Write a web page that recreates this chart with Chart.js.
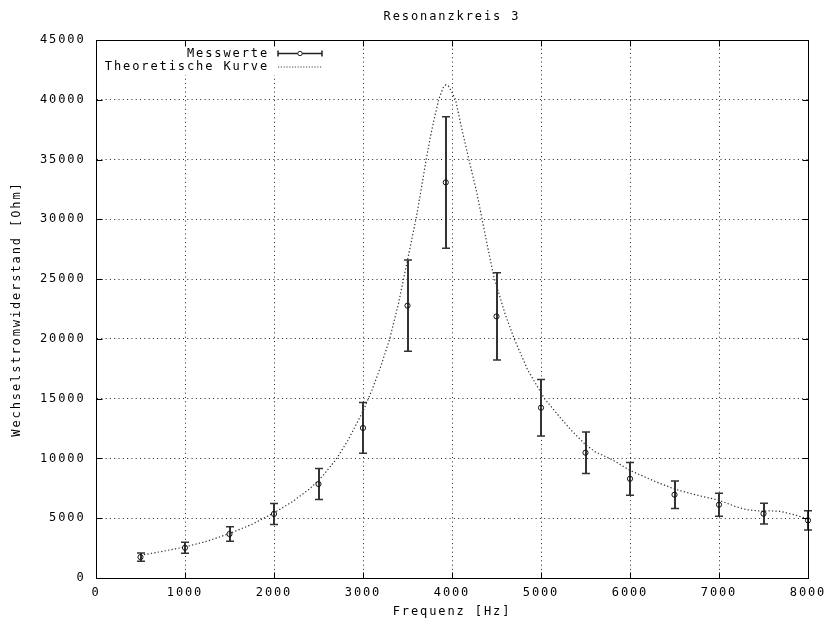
<!DOCTYPE html>
<html><head><meta charset="utf-8">
<script src="https://cdn.jsdelivr.net/npm/chart.js@4/dist/chart.umd.min.js"></script>
<style>html,body{margin:0;padding:0;background:#fff}#wrap{width:832px;height:621px}</style>
</head><body><div id="wrap"><canvas id="c" width="832" height="621"></canvas></div>
<script>
const chartTitle = 'Resonanzkreis 3';
const xTitle = 'Frequenz [Hz]';
const yTitle = 'Wechselstromwiderstand [Ohm]';
const seriesNames = ['Messwerte', 'Theoretische Kurve'];
const xTicks = [0, 1000, 2000, 3000, 4000, 5000, 6000, 7000, 8000];
const yTicks = [0, 5000, 10000, 15000, 20000, 25000, 30000, 35000, 40000, 45000];

const measFreq  = [500, 1000, 1500, 2000, 2500, 3000, 3500, 3930, 4500, 5000, 5500, 6000, 6500, 7000, 7500, 8000];
const measValue = [1750, 2530, 3680, 5360, 7860, 12550, 22780, 33090, 21880, 14240, 10480, 8300, 6970, 6130, 5380, 4820];
const measError = [350, 450, 600, 880, 1300, 2120, 3820, 5500, 3650, 2370, 1740, 1370, 1150, 960, 870, 800];

const curveFreq  = [500, 750, 1000, 1250, 1500, 1750, 2000, 2200, 2400, 2550, 2700, 2830, 3000, 3100, 3200, 3300, 3400, 3455, 3500, 3600, 3660, 3710, 3760, 3800, 3850, 3900, 3930, 3960, 4000, 4040, 4100, 4190, 4280, 4330, 4400, 4470, 4600, 4700, 4850, 5040, 5220, 5340, 5500, 5610, 5800, 6000, 6280, 6500, 6730, 7000, 7180, 7310, 7500, 7540, 7690, 7840, 8000];
const curveValue = [1900, 2230, 2600, 3080, 3720, 4480, 5450, 6350, 7450, 8550, 9950, 11500, 13950, 15700, 17700, 20000, 23000, 25000, 26600, 30200, 32800, 35000, 37000, 38400, 40000, 41000, 41250, 41150, 40600, 40000, 37900, 35000, 32200, 30300, 27700, 25200, 22000, 20000, 17400, 15000, 13380, 12360, 11150, 10550, 9900, 9000, 8080, 7440, 6970, 6500, 5990, 5710, 5570, 5630, 5570, 5300, 4950];

const FONT = 'DejaVu Sans Mono';
const LS = '1.9px';
Chart.defaults.font.family = FONT;
Chart.defaults.font.size = 12;
Chart.defaults.color = '#000';

const spacingPlugin = {
  id: 'spacing',
  beforeInit(c) { c.ctx.letterSpacing = LS; },
  beforeUpdate(c) { c.ctx.letterSpacing = LS; },
  beforeLayout(c) { c.ctx.letterSpacing = LS; },
  beforeDraw(c) { c.ctx.letterSpacing = LS; }
};

const decorPlugin = {
  id: 'decor',
  beforeDatasetsDraw(chart) {
    const ctx = chart.ctx, xs = chart.scales.x, ys = chart.scales.y;
    ctx.save();
    ctx.fillStyle = '#fff';
    ctx.fillRect(100, 42, 230, 33);
    ctx.strokeStyle = '#333';
    ctx.setLineDash([]);
    measFreq.forEach((f, i) => {
      const x = Math.round(xs.getPixelForValue(f));
      const yt = ys.getPixelForValue(measValue[i] + measError[i]);
      const yb = ys.getPixelForValue(measValue[i] - measError[i]);
      ctx.lineWidth = 2;
      ctx.beginPath();
      ctx.moveTo(x, yt); ctx.lineTo(x, yb);
      ctx.stroke();
      ctx.lineWidth = 1.5;
      ctx.beginPath();
      ctx.moveTo(x - 4, yt); ctx.lineTo(x + 4, yt);
      ctx.moveTo(x - 4, yb); ctx.lineTo(x + 4, yb);
      ctx.stroke();
    });
    ctx.restore();
  },
  afterDatasetsDraw(chart) {
    const ctx = chart.ctx, xs = chart.scales.x, ys = chart.scales.y;
    const a = chart.chartArea;
    ctx.save();
    ctx.setLineDash([]);
    ctx.strokeStyle = '#000';
    ctx.lineWidth = 1;
    const L = Math.round(a.left) + 0.5, R = Math.round(a.right) + 0.5;
    const T = Math.round(a.top) + 0.5, B = Math.round(a.bottom) + 0.5;
    ctx.strokeRect(L, T, R - L, B - T);
    ctx.beginPath();
    xTicks.forEach(v => {
      const x = Math.round(xs.getPixelForValue(v)) + 0.5;
      ctx.moveTo(x, B); ctx.lineTo(x, B - 6);
      ctx.moveTo(x, T); ctx.lineTo(x, T + 6);
    });
    yTicks.forEach(v => {
      const y = Math.round(ys.getPixelForValue(v)) + 0.5;
      ctx.moveTo(L, y); ctx.lineTo(L + 6, y);
      ctx.moveTo(R, y); ctx.lineTo(R - 6, y);
    });
    ctx.stroke();
    ctx.letterSpacing = LS;
    ctx.font = '12px "' + FONT + '"';
    ctx.fillStyle = '#000';
    ctx.textAlign = 'right';
    ctx.textBaseline = 'middle';
    const tx = 269, sx1 = 278, sx2 = 322, r1 = 53.5, r2 = 67;
    ctx.fillText(seriesNames[0], tx, r1);
    ctx.fillText(seriesNames[1], tx, r2);
    ctx.strokeStyle = '#222';
    ctx.lineWidth = 1.5;
    ctx.beginPath();
    ctx.moveTo(sx1, r1); ctx.lineTo(sx2, r1);
    ctx.moveTo(sx1, r1 - 3); ctx.lineTo(sx1, r1 + 3);
    ctx.moveTo(sx2, r1 - 3); ctx.lineTo(sx2, r1 + 3);
    ctx.stroke();
    ctx.lineWidth = 1;
    ctx.beginPath();
    ctx.arc((sx1 + sx2) / 2, r1, 2.2, 0, Math.PI * 2);
    ctx.fillStyle = '#fff';
    ctx.fill();
    ctx.stroke();
    ctx.setLineDash([1.2, 1.6]);
    ctx.strokeStyle = '#444';
    ctx.beginPath();
    ctx.moveTo(sx1, r2); ctx.lineTo(sx2, r2);
    ctx.stroke();
    ctx.restore();
  }
};

new Chart(document.getElementById('c'), {
  data: {
    datasets: [
      {
        type: 'line',
        label: seriesNames[1],
        data: curveFreq.map((f, i) => ({ x: f, y: curveValue[i] })),
        borderColor: '#333',
        borderWidth: 1.2,
        borderDash: [1.3, 2.2],
        pointRadius: 0,
        tension: 0,
        fill: false,
        order: 2
      },
      {
        type: 'scatter',
        label: seriesNames[0],
        data: measFreq.map((f, i) => ({ x: f, y: measValue[i] })),
        pointStyle: 'circle',
        pointRadius: 2.6,
        borderColor: '#111',
        borderWidth: 1,
        backgroundColor: 'rgba(255,255,255,0)',
        clip: false,
        order: 1
      }
    ]
  },
  options: {
    responsive: false,
    animation: false,
    devicePixelRatio: 1,
    layout: { padding: { top: 0, right: 24, left: 0, bottom: 0 } },
    plugins: {
      legend: { display: false },
      tooltip: { enabled: false },
      title: {
        display: true, text: chartTitle, fullSize: false,
        color: '#000', font: { family: FONT, size: 12, weight: 'normal' },
        padding: { top: 9.6, bottom: 16 }
      }
    },
    scales: {
      x: {
        type: 'linear', min: 0, max: 8000,
        afterBuildTicks: s => { s.ticks = xTicks.map(v => ({ value: v })); },
        afterFit: s => { s.height = 43; s.paddingLeft = 0; s.paddingRight = 0; },
        grid: { color: '#222', lineWidth: 1, drawTicks: false },
        border: { display: true, color: '#000', width: 1, dash: [1, 3.3] },
        ticks: { padding: 8, color: '#000', maxRotation: 0, autoSkip: false, font: { family: FONT, size: 12 }, callback: v => String(v) },
        title: { display: true, text: xTitle, color: '#000', font: { family: FONT, size: 12 }, padding: { top: 0, bottom: 1.8 } }
      },
      y: {
        type: 'linear', min: 0, max: 45000,
        afterBuildTicks: s => { s.ticks = yTicks.map(v => ({ value: v })); },
        afterFit: s => { s.width = 96; s.paddingTop = 0; s.paddingBottom = 0; },
        grid: { color: '#222', lineWidth: 1, drawTicks: false },
        border: { display: true, color: '#000', width: 1, dash: [1, 3.3] },
        ticks: { padding: 10.5, color: '#000', autoSkip: false, font: { family: FONT, size: 12 }, callback: v => String(v) },
        title: { display: true, text: yTitle, color: '#000', font: { family: FONT, size: 12 }, padding: { top: 9.8, bottom: 0 } }
      }
    }
  },
  plugins: [spacingPlugin, decorPlugin]
});
</script>
</body></html>
